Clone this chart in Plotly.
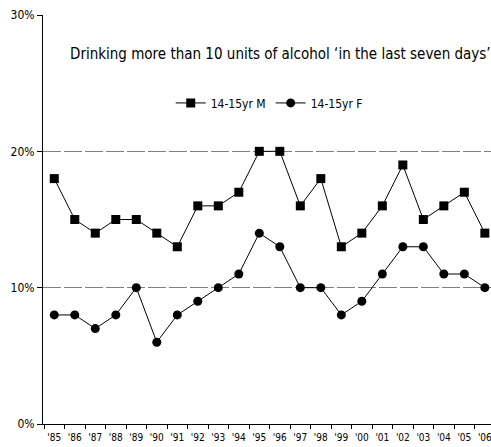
import plotly.graph_objects as go

years = ["'85", "'86", "'87", "'88", "'89", "'90", "'91", "'92", "'93", "'94", "'95",
         "'96", "'97", "'98", "'99", "'00", "'01", "'02", "'03", "'04", "'05", "'06"]
male = [18, 15, 14, 15, 15, 14, 13, 16, 16, 17, 20, 20, 16, 18, 13, 14, 16, 19, 15, 16, 17, 14]
female = [8, 8, 7, 8, 10, 6, 8, 9, 10, 11, 14, 13, 10, 10, 8, 9, 11, 13, 13, 11, 11, 10]
y_ticks = [0, 10, 20, 30]

FONT = "DejaVu Sans Condensed, Liberation Sans Narrow, Liberation Sans, Arial, sans-serif"

fig = go.Figure()
fig.add_trace(go.Scatter(x=years, y=male, name="14-15yr M", mode="lines+markers",
                         line=dict(color="black", width=1),
                         marker=dict(symbol="square", size=9, color="black"),
                         cliponaxis=False))
fig.add_trace(go.Scatter(x=years, y=female, name="14-15yr F", mode="lines+markers",
                         line=dict(color="black", width=1),
                         marker=dict(symbol="circle", size=9, color="black"),
                         cliponaxis=False))

fig.update_layout(
    width=491, height=447,
    margin=dict(l=43, r=0, t=15, b=23),
    paper_bgcolor="white", plot_bgcolor="white",
    font=dict(family=FONT, size=11, color="black"),
    showlegend=True,
    legend=dict(orientation="h", x=0.505, y=0.785, xanchor="center", yanchor="middle",
                font=dict(size=12), bgcolor="rgba(0,0,0,0)", itemwidth=30),
    annotations=[dict(text="Drinking more than 10 units of alcohol \u2018in the last seven days\u2019",
                      x=0.53, y=0.905, xref="paper", yref="paper", showarrow=False,
                      xanchor="center", yanchor="middle", font=dict(size=15, family=FONT))],
)
fig.update_xaxes(type="category", range=[-0.55, 21.3], tickson="boundaries",
                 ticks="outside", ticklen=4, tickcolor="black", tickangle=0,
                 ticklabelstandoff=4,
                 showline=True, linecolor="black", linewidth=1,
                 showgrid=False, zeroline=False, tickfont=dict(size=10))
fig.update_yaxes(range=[0, 30], tickvals=y_ticks, ticktext=[f"{v}%" for v in y_ticks],
                 ticks="outside", ticklen=5, tickcolor="black",
                 showline=True, linecolor="black", linewidth=1,
                 showgrid=True, gridcolor="#808080", griddash="18px,3px", gridwidth=1,
                 zeroline=False, tickfont=dict(size=12))

fig.write_html("out.html", config={"displayModeBar": False},
               post_script="document.body.style.margin='0';")
